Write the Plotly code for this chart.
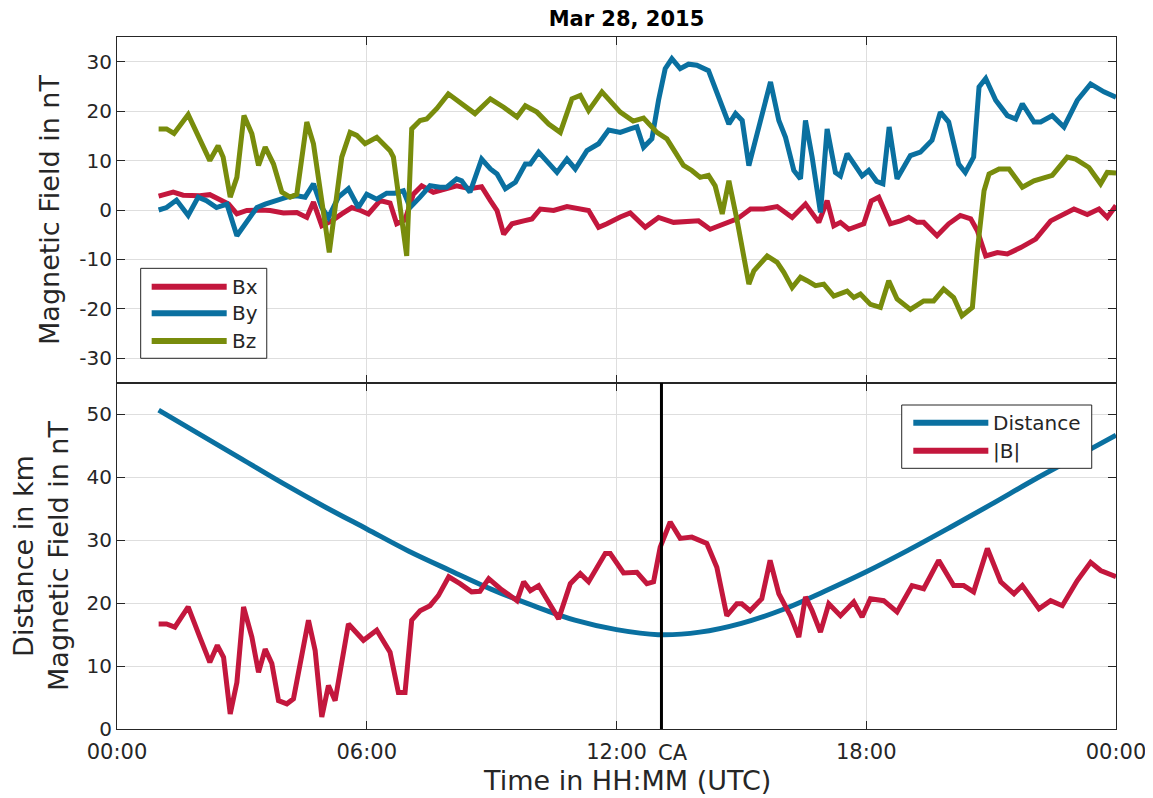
import pandas as pd
import plotly.graph_objects as go
from plotly.subplots import make_subplots

DAY = pd.Timestamp("2015-03-28")
CA_HOUR = 13.08

# ---- data (hours since 00:00 UTC, values in nT / km) ----
bx_t = [1.0,1.35,1.59,1.99,2.23,2.47,2.68,2.88,3.12,3.44,3.68,4.00,4.32,4.56,4.72,4.92,5.16,5.40,5.64,5.85,6.04,6.32,6.56,6.72,6.92,7.12,7.32,7.60,7.88,8.16,8.48,8.76,8.97,9.13,9.29,9.49,9.77,9.97,10.17,10.49,10.81,11.09,11.33,11.57,11.77,12.09,12.33,12.69,13.01,13.37,13.77,13.97,14.25,14.58,14.90,15.22,15.54,15.86,16.22,16.54,16.86,17.06,17.22,17.38,17.58,17.94,18.12,18.30,18.58,18.82,19.02,19.22,19.38,19.70,19.98,20.26,20.51,20.67,20.87,21.15,21.39,21.71,22.07,22.43,22.71,22.99,23.31,23.59,23.79,24.0]
bx_v = [2.8,3.6,3.0,2.9,3.1,2.2,1.2,-0.8,-0.1,0.0,-0.1,-0.6,-0.5,-1.5,1.6,-3.2,-2.2,-0.8,0.5,-0.1,-0.8,1.9,1.4,-2.8,-2.0,3.2,4.9,3.6,4.3,4.9,4.3,4.7,1.9,-0.1,-4.9,-2.8,-2.2,-1.8,0.2,-0.1,0.7,0.2,-0.1,-3.5,-2.8,-1.4,-0.6,-3.5,-1.5,-2.5,-2.2,-2.2,-3.9,-2.8,-1.8,0.2,0.2,0.7,-1.5,1.2,-2.5,1.9,-3.2,-2.5,-3.9,-2.8,1.8,2.6,-2.8,-2.2,-1.5,-2.5,-2.5,-5.2,-2.8,-1.1,-1.8,-4.2,-9.3,-8.6,-8.9,-7.6,-5.9,-2.2,-1.1,0.2,-0.9,0.2,-1.5,0.9]

by_t = [1.0,1.19,1.43,1.71,1.95,2.15,2.39,2.64,2.88,3.12,3.36,3.56,3.80,4.08,4.32,4.52,4.72,4.92,5.08,5.32,5.56,5.80,6.00,6.24,6.48,6.68,6.88,7.04,7.28,7.52,7.76,7.92,8.16,8.28,8.48,8.76,8.97,9.13,9.33,9.57,9.81,9.93,10.13,10.33,10.57,10.81,11.01,11.29,11.57,11.81,12.09,12.33,12.49,12.65,12.85,13.01,13.17,13.33,13.53,13.73,13.93,14.21,14.45,14.70,14.86,15.02,15.18,15.42,15.70,15.90,16.06,16.26,16.42,16.54,16.70,16.90,17.06,17.26,17.38,17.54,17.90,18.06,18.25,18.40,18.55,18.74,19.06,19.30,19.58,19.78,19.98,20.22,20.38,20.58,20.71,20.87,21.11,21.39,21.59,21.75,22.03,22.19,22.47,22.75,23.07,23.39,23.71,24.0]
by_v = [0.0,0.5,2.0,-1.1,2.6,1.9,0.5,1.2,-5.2,-2.5,0.5,1.2,1.9,2.6,2.9,2.6,5.3,0.5,-1.5,2.6,4.3,0.5,3.2,2.2,3.4,3.4,3.9,0.5,2.6,4.9,4.6,4.6,6.3,5.9,3.6,10.3,8.3,7.3,4.3,5.6,9.3,9.3,11.7,9.7,7.6,10.3,8.3,12.0,13.4,16.2,15.7,16.4,16.8,12.7,14.4,22.2,28.6,30.6,28.6,29.5,29.3,28.2,22.8,17.4,19.5,18.1,9.0,16.4,25.9,18.1,14.7,8.0,6.3,18.1,10.7,-0.5,16.4,7.6,6.9,11.4,6.9,8.0,5.8,5.3,16.8,6.3,11.0,11.7,14.1,19.8,17.8,9.3,7.6,10.7,24.9,26.6,22.2,19.1,18.4,21.5,17.8,17.8,19.1,16.8,22.2,25.5,23.9,22.8]

bz_t = [1.0,1.19,1.37,1.71,2.23,2.43,2.55,2.72,2.88,3.05,3.24,3.40,3.56,3.76,3.96,4.16,4.32,4.56,4.72,5.10,5.40,5.60,5.76,5.96,6.24,6.56,6.64,6.96,7.08,7.28,7.44,7.68,7.96,8.24,8.60,8.97,9.29,9.61,9.81,10.09,10.37,10.65,10.93,11.13,11.33,11.65,12.09,12.40,12.65,12.97,13.21,13.41,13.61,13.81,14.01,14.21,14.37,14.54,14.70,14.90,15.18,15.30,15.62,15.86,16.02,16.22,16.42,16.58,16.78,16.98,17.22,17.54,17.70,17.86,18.10,18.34,18.54,18.74,19.06,19.38,19.62,19.86,20.10,20.30,20.55,20.67,20.83,20.95,21.19,21.43,21.75,22.03,22.47,22.83,23.03,23.35,23.63,23.79,24.0]
bz_v = [16.4,16.4,15.5,19.3,10.0,13.0,10.7,2.6,6.6,19.1,15.4,9.0,12.7,9.3,3.6,2.6,3.2,17.8,13.4,-8.6,10.7,15.7,15.1,13.4,14.7,12.0,10.7,-9.3,16.4,18.1,18.4,20.5,23.5,21.8,19.5,22.5,20.8,18.8,21.1,19.8,17.4,15.7,22.5,23.2,20.1,23.9,19.8,18.0,18.6,15.7,14.4,11.7,9.0,8.0,6.6,7.0,4.9,-0.8,5.9,-2.2,-15.0,-12.3,-9.3,-10.6,-12.6,-15.7,-13.6,-14.3,-15.3,-15.0,-17.4,-16.4,-17.7,-17.0,-19.1,-19.7,-14.3,-18.0,-20.1,-18.4,-18.4,-16.0,-17.7,-21.4,-19.7,-8.2,3.9,7.3,8.3,8.3,4.6,5.9,7.0,10.7,10.3,8.6,5.3,7.6,7.5]

dist_t = [1,2,3,4,5,6,7,8,9,10,11,12,13,14,15,16,17,18,19,20,21,22,23,24]
dist_v = [50.7,46.8,42.9,39.0,35.3,31.8,28.3,25.2,22.2,19.6,17.3,15.8,15.0,15.4,16.8,19.0,21.9,25.0,28.4,32.0,35.7,39.5,43.1,46.7]

babs_t = [1.0,1.19,1.39,1.71,1.99,2.23,2.41,2.56,2.72,2.88,3.04,3.24,3.40,3.56,3.72,3.88,4.08,4.24,4.60,4.76,4.92,5.08,5.24,5.56,5.92,6.24,6.56,6.76,6.92,7.08,7.28,7.52,7.72,7.97,8.24,8.52,8.72,8.93,9.21,9.61,9.77,9.93,10.13,10.61,10.89,11.13,11.33,11.73,11.85,12.17,12.49,12.73,12.89,13.05,13.29,13.53,13.81,14.17,14.41,14.65,14.89,15.01,15.21,15.49,15.69,15.90,16.18,16.38,16.54,16.70,16.90,17.10,17.38,17.70,17.90,18.10,18.42,18.74,19.10,19.38,19.74,20.10,20.34,20.58,20.91,21.23,21.55,21.75,22.15,22.43,22.71,23.07,23.39,23.63,24.0]
babs_v = [16.7,16.7,16.2,19.4,14.6,10.6,13.3,11.4,2.4,7.4,19.4,14.6,9.0,12.7,10.4,4.5,4.0,4.8,17.3,12.5,1.9,6.9,4.5,16.7,14.1,15.7,12.2,5.8,5.8,17.3,18.8,19.6,21.2,24.2,23.1,21.8,21.9,23.9,22.3,20.4,23.4,22.0,22.8,17.5,23.1,24.7,23.4,27.9,27.9,24.8,24.9,23.1,23.4,28.9,32.9,30.3,30.5,29.5,25.7,18.0,19.9,19.9,18.8,20.7,26.8,21.5,18.0,14.6,21.0,18.8,15.4,19.9,18.0,20.2,17.8,20.7,20.4,18.6,22.8,22.3,26.8,22.8,22.8,21.8,28.7,23.4,21.5,22.8,19.1,20.4,19.6,23.6,26.5,25.2,24.2]

top_ticks = [-30, -20, -10, 0, 10, 20, 30]
bottom_ticks = [0, 10, 20, 30, 40, 50]

RED = "#C3173D"
BLUE = "#0A70A0"
OLIVE = "#788C0C"
TXT = "#262626"
FONT = "DejaVu Sans"
LW = 5


def to_time(hours):
    return [DAY + pd.Timedelta(hours=h) for h in hours]


fig = make_subplots(rows=2, cols=1, shared_xaxes=True, vertical_spacing=0)

series_top = [("Bx", bx_t, bx_v, RED), ("By", by_t, by_v, BLUE), ("Bz", bz_t, bz_v, OLIVE)]
for name, t, v, c in series_top:
    fig.add_trace(go.Scatter(x=to_time(t), y=v, name=name, mode="lines",
                             line=dict(color=c, width=LW), showlegend=False), row=1, col=1)

series_bottom = [("Distance", dist_t, dist_v, BLUE, "spline"), ("|B|", babs_t, babs_v, RED, "linear")]
for name, t, v, c, shp in series_bottom:
    fig.add_trace(go.Scatter(x=to_time(t), y=v, name=name, mode="lines",
                             line=dict(color=c, width=LW, shape=shp), showlegend=False), row=2, col=1)

# closest approach marker
ca_time = DAY + pd.Timedelta(hours=CA_HOUR)
fig.add_shape(type="line", x0=ca_time, x1=ca_time, y0=0, y1=1,
              xref="x2", yref="y2 domain", line=dict(color="black", width=3))
fig.add_annotation(x=ca_time, y=0, xref="x2", yref="y2 domain", text="CA",
                   showarrow=False, xanchor="left", yanchor="top", xshift=-5, yshift=-10,
                   font=dict(family=FONT, size=21, color=TXT))

# x-axis title (slightly right of centre, as in the source)
fig.add_annotation(x=0.5105, y=0, xref="paper", yref="paper", text="Time in HH:MM (UTC)",
                   showarrow=False, xanchor="center", yanchor="middle", yshift=-51,
                   font=dict(family=FONT, size=27, color=TXT))


# MATLAB-style legends (long line samples) in paper coordinates
def add_legend(box, rows, line_x, text_x):
    x0, x1, y0, y1 = box
    fig.add_shape(type="rect", xref="paper", yref="paper", x0=x0, x1=x1, y0=y0, y1=y1,
                  line=dict(color=TXT, width=1), fillcolor="white", layer="above")
    for (label, color), yy in rows:
        fig.add_shape(type="line", xref="paper", yref="paper", x0=line_x[0], x1=line_x[1],
                      y0=yy, y1=yy, line=dict(color=color, width=LW + 1), layer="above")
        fig.add_annotation(xref="paper", yref="paper", x=text_x, y=yy, text=label,
                           showarrow=False, xanchor="left", yanchor="middle",
                           font=dict(family=FONT, size=20, color=TXT))


add_legend((0.0237, 0.1499, 0.5357, 0.6657),
           [(("Bx", RED), 0.6392), (("By", BLUE), 0.6007), (("Bz", OLIVE), 0.5607)],
           (0.0347, 0.1098), 0.1128)
add_legend((0.7855, 0.9757, 0.3767, 0.4682),
           [(("Distance", BLUE), 0.4426), (("|B|", RED), 0.4022)],
           (0.7971, 0.8722), 0.8746)

axis_common = dict(showline=True, linecolor=TXT, linewidth=1.2, mirror="ticks",
                   ticks="inside", ticklen=8, tickcolor=TXT, automargin=False,
                   showgrid=True, gridcolor="#DEDEDE", gridwidth=1, zeroline=False,
                   tickfont=dict(family=FONT, size=20, color=TXT))

x_range = [DAY, DAY + pd.Timedelta(hours=24)]
fig.update_xaxes(**axis_common, range=x_range, dtick=6 * 3600 * 1000,
                 tick0=DAY, tickformat="%H:%M")
fig.update_xaxes(showticklabels=False, row=1, col=1)
fig.update_xaxes(ticklabelstandoff=4, tickfont=dict(family=FONT, size=21, color=TXT), row=2, col=1)

fig.update_yaxes(**axis_common)
fig.update_yaxes(range=[-35, 35], tickvals=top_ticks, ticktext=[str(v) for v in top_ticks],
                 title=dict(text="Magnetic Field in nT", font=dict(family=FONT, size=27, color=TXT),
                            standoff=11), row=1, col=1)
fig.update_yaxes(range=[0, 55], tickvals=bottom_ticks, ticktext=[str(v) for v in bottom_ticks],
                 title=dict(text="Distance in km<br>Magnetic Field in nT",
                            font=dict(family=FONT, size=27, color=TXT), standoff=9),
                 row=2, col=1)

fig.update_layout(
    width=1145, height=790,
    margin=dict(l=109, r=37, t=29, b=69),
    paper_bgcolor="white", plot_bgcolor="white",
    title=dict(text="<b>Mar 28, 2015</b>", xref="paper", x=0.51, xanchor="center",
               yref="container", y=0.987, yanchor="middle",
               font=dict(family=FONT, size=21, color="black")),
    showlegend=False,
)

fig.write_html("out.html")
